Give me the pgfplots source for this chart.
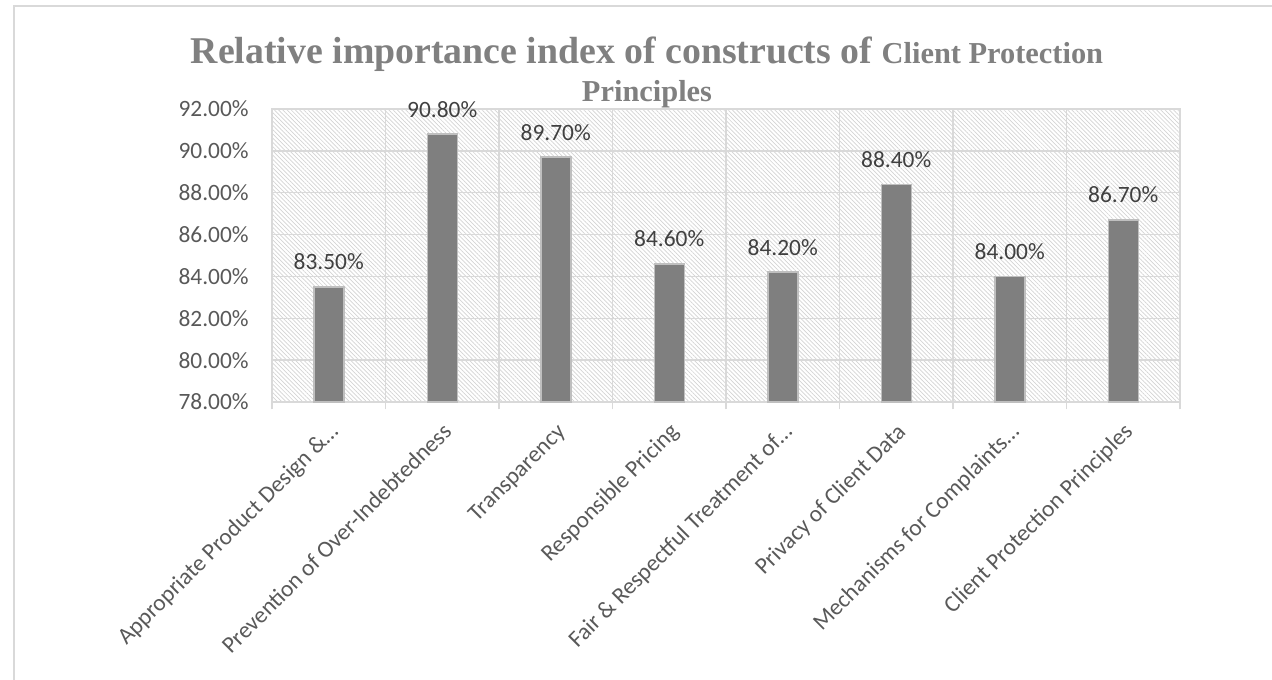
\documentclass[border=0pt]{standalone}
\usepackage{pgfplots}
\pgfplotsset{compat=1.18}
\usepackage{fontspec}
\setmainfont{Carlito}
\newfontfamily\titlefont{Liberation Serif}
\usetikzlibrary{patterns.meta}
\definecolor{gridgray}{HTML}{D9D9D9}
\definecolor{hatchgray}{HTML}{D3D3D3}
\definecolor{barfill}{HTML}{7F7F7F}
\definecolor{barline}{HTML}{BFBFBF}
\definecolor{ticktext}{HTML}{595959}
\definecolor{labeltext}{HTML}{404040}
\definecolor{titlegray}{HTML}{808080}
\begin{document}
\begin{tikzpicture}
\path[use as bounding box] (0,0) rectangle (636bp,340bp);
\draw[gridgray, line width=1bp] (7bp,0) -- (7bp,337bp) -- (636bp,337bp);
\begin{axis}[
  at={(136bp,139bp)}, anchor=south west,
  width=454bp, height=146.5bp, scale only axis,
  xmin=0.5, xmax=8.5, ymin=78, ymax=92,
  ybar, bar width=15bp, bar shift=0pt,
  xtick={1,...,8},
  xticklabels={Appropriate Product Design \&…, Prevention of Over-Indebtedness, Transparency, Responsible Pricing, Fair \& Respectful Treatment of…, Privacy of Client Data, Mechanisms for Complaints…, Client Protection Principles},
  minor xtick={0.5,1.5,...,8.5},
  xminorgrids=true, ymajorgrids=true,
  grid style={draw=gridgray, line width=0.75bp},
  minor grid style={draw=gridgray, line width=0.75bp},
  axis line style={draw=gridgray, line width=0.75bp},
  tick align=outside, major tick length=0pt, minor tick length=3.7bp,
  minor tick style={draw=gridgray, line width=0.75bp},
  xtick pos=bottom, ytick pos=left,
  ytick={78,80,...,92},
  yticklabels={78.00\%,80.00\%,82.00\%,84.00\%,86.00\%,88.00\%,90.00\%,92.00\%},
  yticklabel style={font=\fontsize{11.7bp}{14bp}\selectfont, text=ticktext, anchor=east, inner sep=0pt, xshift=-11.5bp},
  xticklabel style={font=\fontsize{11.7bp}{14bp}\selectfont, text=ticktext, xshift=0bp, yshift=-10bp, rotate=45, anchor=north east, inner sep=0pt, text height=0.75em, text depth=0.25em},
  axis background/.style={pattern={Lines[angle=-45,distance=1.5bp,line width=0.35bp]}, pattern color=hatchgray},
  nodes near coords={\pgfmathprintnumber[fixed,fixed zerofill,precision=2,assume math mode=true]{\pgfplotspointmeta}\%},
  nodes near coords style={font=\fontsize{11.7bp}{14bp}\selectfont, text=labeltext, anchor=base, inner sep=0pt, yshift=8.5bp},
]
\addplot[fill=barfill, draw=barline, line width=0.75bp] coordinates {
 (1,83.5) (2,90.8) (3,89.7) (4,84.6) (5,84.2) (6,88.4) (7,84.0) (8,86.7)
};
\end{axis}
\node[anchor=base, text=titlegray, inner sep=0pt] at (323.5bp,308bp) {\titlefont\bfseries\fontsize{18.9bp}{21bp}\selectfont Relative importance index of constructs of {\fontsize{15.2bp}{17bp}\selectfont Client Protection}};
\node[anchor=base, text=titlegray, inner sep=0pt] at (323.5bp,289bp) {\titlefont\bfseries\fontsize{15.2bp}{17bp}\selectfont Principles};
\end{tikzpicture}
\end{document}
